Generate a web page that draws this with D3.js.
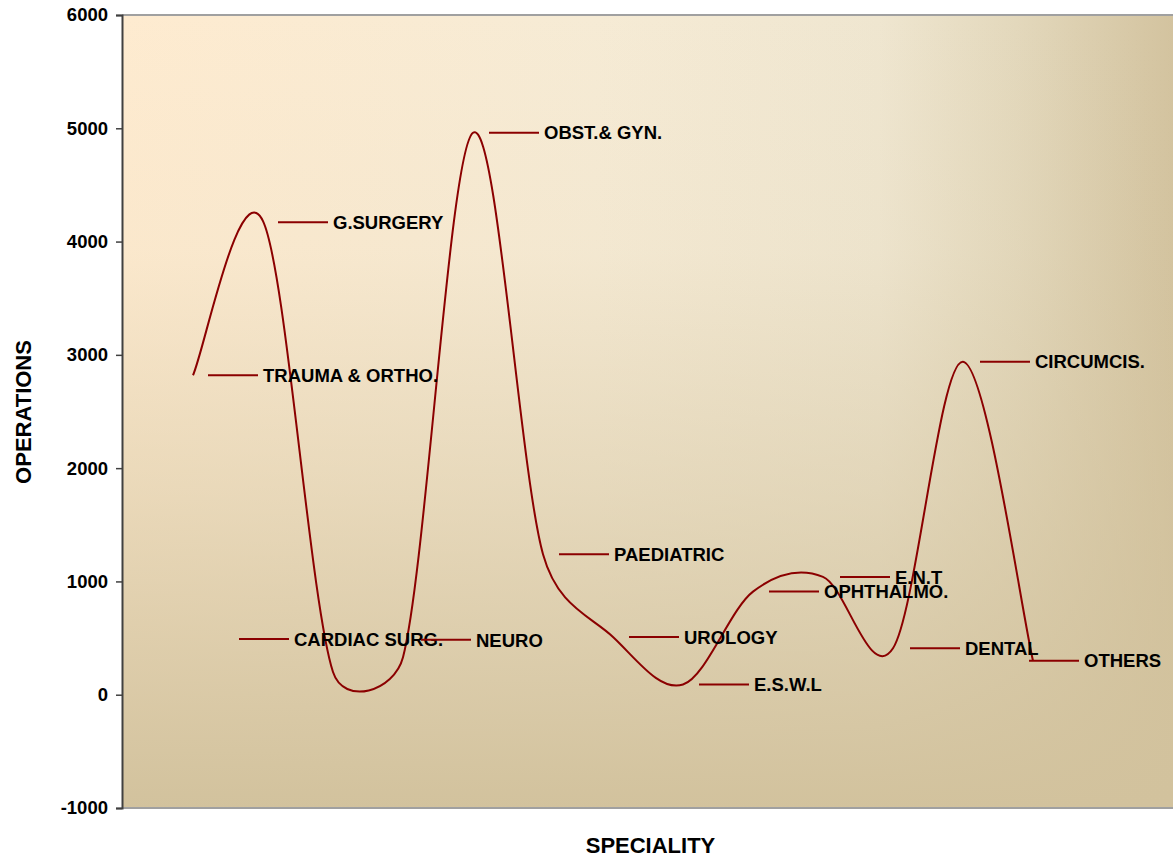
<!DOCTYPE html>
<html>
<head>
<meta charset="utf-8">
<script src="https://cdn.jsdelivr.net/npm/d3@7/dist/d3.min.js"></script>
<style>
  html, body { margin: 0; padding: 0; background: #ffffff; }
  svg { display: block; font-family: Arial, "Liberation Sans", sans-serif; }
</style>
</head>
<body>
<svg id="chart" width="1173" height="866"></svg>
<script>
// ---------- data ----------
const categories = ["TRAUMA & ORTHO.", "G.SURGERY", "CARDIAC SURG.", "NEURO", "OBST.& GYN.",
  "PAEDIATRIC", "UROLOGY", "E.S.W.L", "OPHTHALMO.", "E.N.T", "DENTAL", "CIRCUMCIS.", "OTHERS"];
const operations = [2820, 4180, 200, 330, 4960, 1240, 510, 90, 910, 1040, 410, 2940, 300];
const yTicks = [-1000, 0, 1000, 2000, 3000, 4000, 5000, 6000];
const yTitle = "OPERATIONS";
const xTitle = "SPECIALITY";

// ---------- layout (label leader offsets in px: [dx of line start, dy]) ----------
const labelOffsets = [[15, 0], [15, 1], [-94, -33], [18, -17.5], [16, 0], [16, 0], [16, 0],
  [16, 0], [16, 0], [17, 0], [17, 0], [17, 0], [-4, 0]];
const W = 1173, H = 866;
const plot = { left: 122, top: 15, right: 1173, bottom: 808 };
const leaderLen = 50, textGap = 5;
const lineColor = "#8B0000";

const svg = d3.select("#chart");
const defs = svg.append("defs");

// Background gradients
const gh = defs.append("linearGradient").attr("id", "gh").attr("x1", 0).attr("y1", 0).attr("x2", 1).attr("y2", 0);
[[0, "#FEEBD0"], [0.45, "#F6EBD5"], [0.72, "#EFE6D0"], [0.85, "#E3D8BC"], [1, "#D3C39F"]]
  .forEach(([o, c]) => gh.append("stop").attr("offset", o).attr("stop-color", c));
const gv = defs.append("linearGradient").attr("id", "gv").attr("x1", 0).attr("y1", 0).attr("x2", 0).attr("y2", 1);
[[0, 0], [0.3, 0.08], [0.6, 0.45], [0.85, 0.8], [1, 1]]
  .forEach(([o, a]) => gv.append("stop").attr("offset", o).attr("stop-color", "#D2C29D").attr("stop-opacity", a));

svg.append("rect").attr("x", plot.left).attr("y", plot.top)
  .attr("width", plot.right - plot.left).attr("height", plot.bottom - plot.top).attr("fill", "url(#gh)");
svg.append("rect").attr("x", plot.left).attr("y", plot.top)
  .attr("width", plot.right - plot.left).attr("height", plot.bottom - plot.top).attr("fill", "url(#gv)");

// Scales
const x = d3.scalePoint().domain(categories).range([plot.left + 71, plot.left + 911]);
const y = d3.scaleLinear().domain([-1000, 6000]).range([plot.bottom, plot.top]);

// Plot borders (top / bottom)
svg.append("line").attr("x1", plot.left).attr("x2", plot.right).attr("y1", plot.top).attr("y2", plot.top)
  .attr("stroke", "#a0a0a0").attr("stroke-width", 2);
svg.append("line").attr("x1", plot.left).attr("x2", plot.right).attr("y1", plot.bottom).attr("y2", plot.bottom)
  .attr("stroke", "#a0a0a0").attr("stroke-width", 2);

// Y axis
const yAxis = svg.append("g").attr("transform", `translate(${plot.left},0)`)
  .call(d3.axisLeft(y).tickValues(yTicks).tickSize(6).tickPadding(8).tickFormat(d => String(d)));
yAxis.select(".domain").attr("stroke", "#404040").attr("stroke-width", 2);
yAxis.selectAll(".tick line").attr("stroke", "#404040").attr("stroke-width", 1.5);
yAxis.selectAll(".tick text").attr("fill", "#000").style("font-size", "18.5px").style("font-weight", "bold")
  .style("font-family", "Arial, 'Liberation Sans', sans-serif");

// Excel-like smoothing curve
function ExcelSmooth(context) { this._context = context; }
ExcelSmooth.prototype = {
  areaStart() { this._line = 0; },
  areaEnd() { this._line = NaN; },
  lineStart() { this._pts = []; },
  point(px, py) { this._pts.push([+px, +py]); },
  lineEnd() {
    const p = this._pts, c = this._context, n = p.length;
    if (!n) return;
    c.moveTo(p[0][0], p[0][1]);
    for (let i = 0; i < n - 1; i++) {
      const p0 = p[Math.max(i - 1, 0)], p1 = p[i], p2 = p[i + 1], p3 = p[Math.min(i + 2, n - 1)];
      const d12 = Math.hypot(p2[0] - p1[0], p2[1] - p1[1]);
      const d02 = Math.hypot(p2[0] - p0[0], p2[1] - p0[1]);
      const d13 = Math.hypot(p3[0] - p1[0], p3[1] - p1[1]);
      let f1 = 1 / 6, f2 = 1 / 6;
      if (d02 / 6 > d12 / 2) f1 = d12 / 2 / d02;
      if (d13 / 6 > d12 / 2) f2 = d12 / 2 / d13;
      c.bezierCurveTo(
        p1[0] + (p2[0] - p0[0]) * f1, p1[1] + (p2[1] - p0[1]) * f1,
        p2[0] - (p3[0] - p1[0]) * f2, p2[1] - (p3[1] - p1[1]) * f2,
        p2[0], p2[1]);
    }
  }
};
const curveExcel = ctx => new ExcelSmooth(ctx);

const data = categories.map((c, i) => ({ cat: c, v: operations[i], off: labelOffsets[i] }));

svg.append("path").datum(data)
  .attr("fill", "none").attr("stroke", lineColor).attr("stroke-width", 2)
  .attr("d", d3.line().x(d => x(d.cat)).y(d => y(d.v)).curve(curveExcel));

// Data labels with leader lines
const lbl = svg.append("g").selectAll("g").data(data).join("g")
  .attr("transform", d => `translate(${x(d.cat) + d.off[0]},${y(d.v) + d.off[1]})`);
lbl.append("line").attr("x1", 0).attr("x2", leaderLen).attr("y1", 0).attr("y2", 0)
  .attr("stroke", lineColor).attr("stroke-width", 2);
lbl.append("text").attr("x", leaderLen + textGap).attr("y", 0).attr("dy", "0.36em")
  .attr("fill", "#000").style("font-size", "18.5px").style("font-weight", "bold")
  .text(d => d.cat);

// Axis titles
svg.append("text").attr("transform", `translate(31,412) rotate(-90)`)
  .attr("text-anchor", "middle").style("font-size", "22px").style("font-weight", "bold").text(yTitle);
svg.append("text").attr("x", (plot.left + plot.right) / 2 + 3).attr("y", 853)
  .attr("text-anchor", "middle").style("font-size", "22px").style("font-weight", "bold").text(xTitle);
</script>
</body>
</html>
